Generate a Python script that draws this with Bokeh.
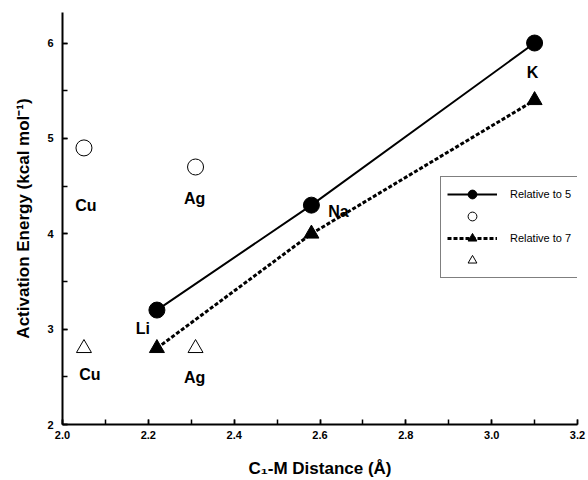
from bokeh.plotting import figure
from bokeh.models import Range1d, Legend, LegendItem, SingleIntervalTicker, NumeralTickFormatter
from bokeh.core.properties import value
from bokeh.embed import file_html
from bokeh.resources import INLINE

# ---- data ----
alk_names = ["Li", "Na", "K"]
alk_dist = [2.22, 2.58, 3.10]
ea_rel5 = [3.2, 4.3, 6.0]
ea_rel7 = [2.8, 4.0, 5.4]

cg_names = ["Cu", "Ag"]
cg_dist = [2.05, 2.31]
cg_rel5 = [4.9, 4.7]
cg_rel7 = [2.8, 2.8]

legend_labels = ["Relative to 5", "Relative to 7"]
x_title = "C\u2081-M Distance (\u00c5)"
y_title = "Activation Energy (kcal mol\u207b\u00b9)"

FONT = "Liberation Sans"

p = figure(width=588, height=480, x_range=Range1d(2.0, 3.2), y_range=Range1d(2.0, 6.32),
           output_backend="svg", toolbar_location=None,
           min_border_left=62, min_border_right=11, min_border_top=12, min_border_bottom=56)
p.outline_line_color = None
p.xgrid.visible = False
p.ygrid.visible = False
p.background_fill_color = "white"
p.border_fill_color = "white"

# axes
p.xaxis.ticker = SingleIntervalTicker(interval=0.2, num_minor_ticks=2)
p.yaxis.ticker = SingleIntervalTicker(interval=1, num_minor_ticks=2)
p.xaxis.formatter = NumeralTickFormatter(format="0.0")
p.yaxis.formatter = NumeralTickFormatter(format="0")
for ax in (p.xaxis, p.yaxis):
    ax.axis_line_width = 2
    ax.axis_line_color = "black"
    ax.major_tick_in = 5
    ax.major_tick_out = 0
    ax.minor_tick_in = 5
    ax.minor_tick_out = 0
    ax.major_tick_line_width = 1.5
    ax.minor_tick_line_width = 1.5
    ax.major_label_text_font = FONT
    ax.major_label_text_font_style = "bold"
    ax.major_label_text_font_size = "11px"
    ax.major_label_text_color = "black"
    ax.axis_label_text_font = FONT
    ax.axis_label_text_font_style = "bold"
    ax.axis_label_text_font_size = "17px"
    ax.axis_label_text_color = "black"
p.xaxis.axis_label = x_title
p.yaxis.axis_label = y_title
p.xaxis.major_label_standoff = 6
p.yaxis.major_label_standoff = 9
p.xaxis.axis_label_standoff = 17
p.yaxis.axis_label_standoff = 11

# series
l5 = p.line(alk_dist, ea_rel5, line_color="black", line_width=2)
c5 = p.scatter(alk_dist, ea_rel5, marker="circle", size=16, fill_color="black", line_color="black")
l7 = p.line(alk_dist, ea_rel7, line_color="black", line_width=3, line_dash="4 2")
t7 = p.scatter(alk_dist, ea_rel7, marker="triangle", size=15, fill_color="black", line_color="black")
oc = p.scatter(cg_dist, cg_rel5, marker="circle", size=16, fill_color="white", line_color="black", line_width=1)
ot = p.scatter(cg_dist, cg_rel7, marker="triangle", size=15, fill_color="white", line_color="black", line_width=1)

# element labels
lab_text = [cg_names[0], cg_names[0], cg_names[1], cg_names[1], alk_names[0], alk_names[1], alk_names[2]]
lab_x = [cg_dist[0], cg_dist[0], cg_dist[1], cg_dist[1], alk_dist[0], alk_dist[1], alk_dist[2]]
lab_y = [cg_rel5[0], cg_rel7[0], cg_rel5[1], cg_rel7[1], ea_rel5[0], ea_rel5[1], ea_rel5[2]]
lab_dx = [2, 6, -1, -1, -14, 27, -2]
lab_dy = [58, 26, 31, 29, 18, 6, 29]
p.text(x=lab_x, y=lab_y, text=lab_text, x_offset=lab_dx, y_offset=lab_dy,
       text_font=value(FONT), text_font_style="bold", text_font_size="16px",
       text_align="center", text_baseline="middle", text_color="black")

legend = Legend(items=[
    LegendItem(label=legend_labels[0], renderers=[l5, c5]),
    LegendItem(label=" ", renderers=[oc]),
    LegendItem(label=legend_labels[1], renderers=[l7, t7]),
    LegendItem(label=" ", renderers=[ot]),
], location=(378, 146))
legend.glyph_width = 50
legend.glyph_height = 22
legend.label_height = 22
legend.spacing = 0
legend.padding = 6
legend.margin = 0
legend.label_standoff = 13
legend.label_text_font = FONT
legend.label_text_font_size = "11px"
legend.label_text_color = "black"
legend.border_line_color = "black"
legend.border_line_width = 1
legend.background_fill_color = "white"
legend.background_fill_alpha = 1.0
p.add_layout(legend, "center")

open("out.html", "w").write(file_html(p, INLINE))
